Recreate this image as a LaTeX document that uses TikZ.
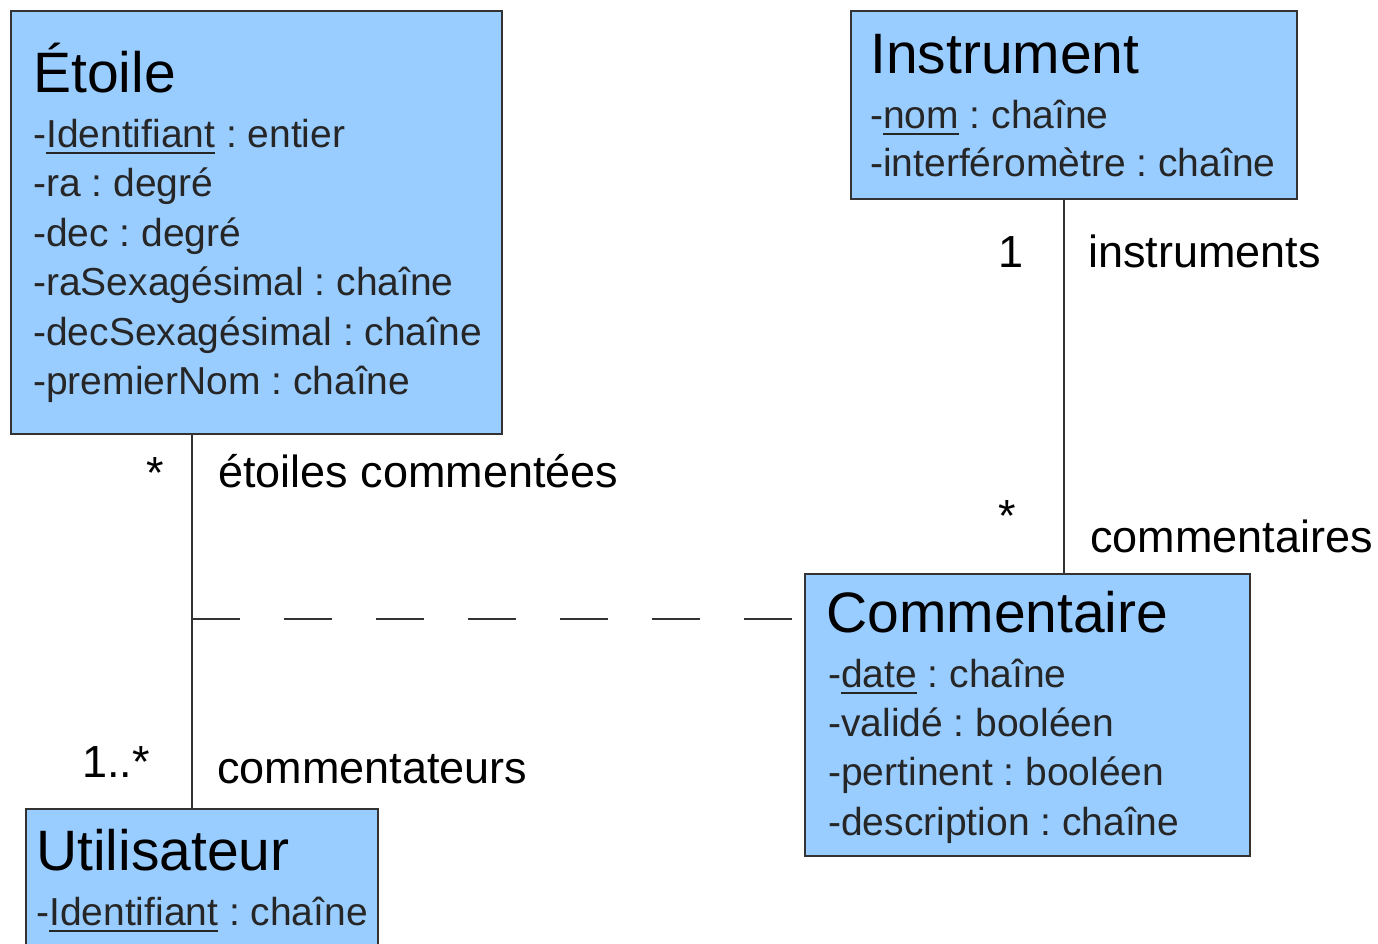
\documentclass[tikz,border=0pt]{standalone}
\usepackage{fontspec}
\setmainfont{Liberation Sans}
\frenchspacing
\definecolor{clsfill}{HTML}{99CCFF}
\definecolor{clsline}{HTML}{333333}
\newcommand\uln[1]{\setbox0\hbox{#1}\rlap{\rule[-7pt]{\wd0}{2pt}}\box0\relax}
\tikzset{
  clsbox/.style={draw=clsline, fill=clsfill, line width=2pt, rectangle, inner sep=0pt, anchor=north west},
  title/.style={anchor=base west, inner sep=0pt, font=\fontsize{57}{60}\selectfont},
  attr/.style={anchor=base west, inner sep=0pt, font=\fontsize{39}{42}\selectfont, text=black!85},
  lbl/.style={anchor=base west, inner sep=0pt, font=\fontsize{45}{48}\selectfont},
  conn/.style={draw=clsline, line width=2pt},
}
\begin{document}
\begin{tikzpicture}[x=1pt,y=-1pt]
\clip (0,0) rectangle (1378,943);
\fill[white] (0,0) rectangle (1378,943);
% boxes
\node[clsbox, minimum width=491pt, minimum height=423pt] (etoile) at (10,10) {};
\node[clsbox, minimum width=446pt, minimum height=188pt] (inst) at (850,10) {};
\node[clsbox, minimum width=445pt, minimum height=282pt] (comm) at (804,573) {};
\node[clsbox, minimum width=352pt, minimum height=180pt] (util) at (25,808) {};
% Etoile
\node[title] (et0) at (33,92) {Étoile};
\node[attr] (et1) at (33,147) {-\uln{Identifiant} : entier};
\node[attr] (et2) at (33,196) {-ra : degré};
\node[attr] (et3) at (33,246) {-dec : degré};
\node[attr] (et4) at (33,295) {-raSexagésimal : chaîne};
\node[attr] (et5) at (33,345) {-decSexagésimal : chaîne};
\node[attr] (et6) at (33,394) {-premierNom : chaîne};
% Instrument
\node[title] (in0) at (870,73) {Instrument};
\node[attr] (in1) at (870,128) {-\uln{nom} : chaîne};
\node[attr] (in2) at (870,176) {-interféromètre : chaîne};
% Commentaire
\node[title] (co0) at (826,632) {Commentaire};
\node[attr] (co1) at (828,687) {-\uln{date} : chaîne};
\node[attr] (co2) at (828,736) {-validé : booléen};
\node[attr] (co3) at (828,785) {-pertinent : booléen};
\node[attr] (co4) at (828,835) {-description : chaîne};
% Utilisateur
\node[title] (ut0) at (36,870) {Utilisateur};
\node[attr] (ut1) at (36,925) {-\uln{Identifiant} : chaîne};
% connectors
\draw[conn] (192,0 |- etoile.south) -- (192,0 |- util.north);
\draw[conn] (1064,0 |- inst.south) -- (1064,0 |- comm.north);
\coordinate (assoc) at (192,619);
\draw[conn, dash pattern=on 48pt off 44pt] (assoc) -- (comm.west |- assoc);
% labels
\node[lbl] (l1) at (146,488) {*};
\node[lbl] (l2) at (218,487) {étoiles commentées};
\node[lbl] (l3) at (82,777) {1..*};
\node[lbl] (l4) at (217,783) {commentateurs};
\node[lbl] (l5) at (998,267) {1};
\node[lbl] (l6) at (1088,267) {instruments};
\node[lbl] (l7) at (998,531) {*};
\node[lbl] (l8) at (1090,552) {commentaires};
\end{tikzpicture}
\end{document}
